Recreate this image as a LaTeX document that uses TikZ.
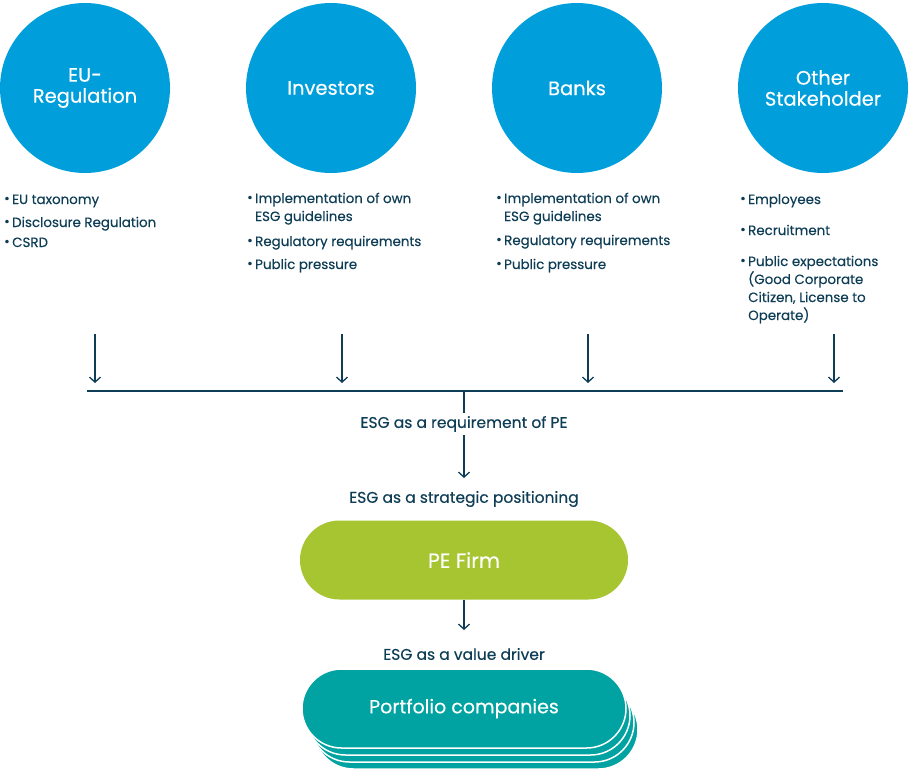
\documentclass[tikz,border=0pt]{standalone}
\usepackage{fontspec}
\setmainfont{Poppins}[BoldFont=Poppins,BoldFeatures={FakeBold=0.35}]
\usetikzlibrary{arrows.meta}
\definecolor{cblue}{HTML}{009FDB}
\definecolor{navy}{HTML}{0E3D56}
\definecolor{cgreen}{HTML}{A6C530}
\definecolor{cteal}{HTML}{00A3A1}
\tikzset{
  circ/.style={circle,fill=cblue,minimum size=170pt,inner sep=0pt,text=white,align=center,font=\fontsize{19.5}{21}\selectfont\bfseries},
  bi/.style={anchor=base west,text=navy,inner sep=0pt,align=left,font=\fontsize{13.4}{18}\selectfont\bfseries},
  arr/.style={-{Straight Barb[length=5pt,width=11pt]},navy,line width=1.3pt},
  ln/.style={navy,line width=1.3pt},
  lab/.style={text=navy,font=\fontsize{15.5}{18}\selectfont\bfseries},
  pill/.style={rounded corners=39.5pt,minimum width=328pt,minimum height=79pt,text=white,font=\fontsize{19}{21}\selectfont\bfseries},
}
\newcommand{\bitem}[1]{\makebox[8pt][l]{\raisebox{1pt}{\textbullet}}#1}
\newcommand{\bind}{\hspace*{8pt}}
\begin{document}
\begin{tikzpicture}[x=1pt,y=1pt]
\useasboundingbox (0,0) rectangle (909,-773);
\node[circ] (c1) at (85,-88) {EU-\\Regulation};
\node[circ] (c2) at (331,-88) {Investors};
\node[circ] (c3) at (577,-88) {Banks};
\node[circ] (c4) at (823,-88) {Other\\Stakeholder};

% column 1
\node[bi] (b11) at (4,-204) {\bitem{EU taxonomy}};
\node[bi] (b12) at (4,-227) {\bitem{Disclosure Regulation}};
\node[bi] (b13) at (4,-247) {\bitem{CSRD}};
% column 2 (base = last line)
\node[bi] (b21) at (247,-221) {\bitem{Implementation of own}\\\bind ESG guidelines};
\node[bi] (b22) at (247,-246) {\bitem{Regulatory requirements}};
\node[bi] (b23) at (247,-269) {\bitem{Public pressure}};
% column 3
\node[bi] (b31) at (496,-221) {\bitem{Implementation of own}\\\bind ESG guidelines};
\node[bi] (b32) at (496,-245) {\bitem{Regulatory requirements}};
\node[bi] (b33) at (496,-269) {\bitem{Public pressure}};
% column 4
\node[bi] (b41) at (740,-204) {\bitem{Employees}};
\node[bi] (b42) at (740,-235) {\bitem{Recruitment}};
\node[bi] (b43) at (740,-320) {\bitem{Public expectations}\\\bind(Good Corporate\\\bind Citizen, License to\\\bind Operate)};

\coordinate (a1s) at (95,-334); \coordinate (a1e) at (95,-383);
\coordinate (a2s) at (342,-334); \coordinate (a2e) at (342,-383);
\coordinate (a3s) at (588,-334); \coordinate (a3e) at (588,-383);
\coordinate (a4s) at (834,-334); \coordinate (a4e) at (834,-383);
\draw[arr] (a1s) -- (a1e);
\draw[arr] (a2s) -- (a2e);
\draw[arr] (a3s) -- (a3e);
\draw[arr] (a4s) -- (a4e);
\coordinate (hl) at (87,-391); \coordinate (hr) at (843,-391);
\draw[ln] (hl) -- (hr);
\coordinate (hm) at (464,-391);

\node[lab] (t1) at (464,-424) {ESG as a requirement of PE};
\draw[ln] (hm) -- (t1.north);
\coordinate (a5e) at (464,-478);
\draw[arr] (t1.south) -- (a5e);
\node[lab] (t2) at (464,-499) {ESG as a strategic positioning};

\node[pill,fill=cgreen,font=\fontsize{20.5}{22}\selectfont\bfseries] (pe) at (464,-560) {PE Firm};
\coordinate (a6e) at (464,-630);
\draw[arr] (pe.south) -- (a6e);
\node[lab] (t3) at (464,-654) {ESG as a value driver};

\node[pill,fill=cteal,draw=white,line width=1.5pt,minimum width=324pt] (p3) at (476,-729.5) {};
\node[pill,fill=cteal,draw=white,line width=1.5pt,minimum width=324pt] (p2) at (472,-722.5) {};
\node[pill,fill=cteal,draw=white,line width=1.5pt,minimum width=324pt] (p1) at (468,-715.5) {};
\node[pill,fill=cteal,draw=white,line width=1.5pt,minimum width=324pt] (pc) at (464,-708.5) {Portfolio companies};
\end{tikzpicture}
\end{document}
